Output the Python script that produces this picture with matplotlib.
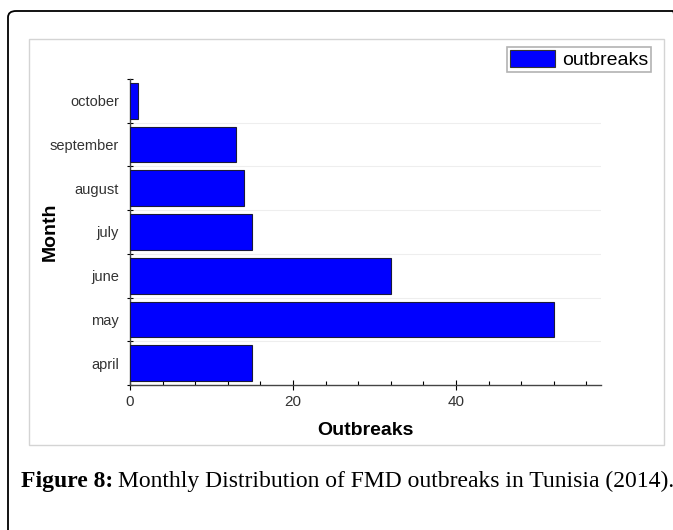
#!/usr/bin/env python3
import matplotlib
matplotlib.use('Agg')
import matplotlib.pyplot as plt
from matplotlib.patches import FancyBboxPatch, Rectangle
from matplotlib.ticker import MultipleLocator, FixedLocator
import numpy as np

months = ['april', 'may', 'june', 'july', 'august', 'september', 'october']
outbreaks = [15, 52, 32, 15, 14, 13, 1]

W, H = 673, 530
fig = plt.figure(figsize=(W / 100, H / 100), dpi=100)

# outer frame (rounded, runs off the right/bottom edge)
fig.patches.append(FancyBboxPatch((8 / W, -0.05), 1.0, 1.0 - 11 / H + 0.05,
                                  boxstyle='round,pad=0,rounding_size=0.012',
                                  transform=fig.transFigure, fill=False,
                                  edgecolor='black', linewidth=1.3))
# grey panel around the chart image
fig.patches.append(Rectangle((29 / W, 1 - 445 / H), (664 - 29) / W, (445 - 39) / H,
                             transform=fig.transFigure, fill=False,
                             edgecolor='#d4d4d4', linewidth=1.0))

ax = fig.add_axes([130 / W, 1 - 385 / H, (601 - 130) / W, (385 - 79) / H])
y = np.arange(len(months))
bars = ax.barh(y, outbreaks, height=0.82, color='#0000ff', edgecolor='#1a1a3a',
               linewidth=0.8, label='outbreaks', zorder=3)

ax.set_xlim(0, 57.8)
ax.set_ylim(-0.5, len(months) - 0.5)
ax.set_yticks(y)
ax.set_yticklabels(months, fontsize=10.5, family='Liberation Sans', color='#333333')
ax.yaxis.set_minor_locator(FixedLocator(np.arange(-0.5, len(months), 1.0)))
ax.tick_params(axis='y', which='major', length=0, pad=8)
ax.tick_params(axis='y', which='minor', length=5, direction='inout', width=0.8)

ax.xaxis.set_major_locator(MultipleLocator(20))
ax.xaxis.set_minor_locator(MultipleLocator(4))
ax.tick_params(axis='x', which='major', length=7, direction='inout', width=0.8,
               labelsize=11, pad=4)
ax.tick_params(axis='x', which='minor', length=3, direction='in', width=0.8)
for lab in ax.get_xticklabels():
    lab.set_family('Liberation Sans')
    lab.set_color('#333333')

for b in np.arange(0.5, len(months) - 0.5, 1.0):
    ax.axhline(b, color='#eeeeee', linewidth=0.8, zorder=1)

for s in ['top', 'right']:
    ax.spines[s].set_visible(False)
for s in ['left', 'bottom']:
    ax.spines[s].set_color('#444444')
    ax.spines[s].set_linewidth(1.0)

ax.set_xlabel('Outbreaks', fontsize=14, fontweight='bold', family='Liberation Sans')
ax.set_ylabel('Month', fontsize=14, fontweight='bold', family='Liberation Sans')
ax.xaxis.set_label_coords(0.5, -(422 - 385) / 306)
ax.yaxis.set_label_coords(-(130 - 42) / 471, 0.5)
ax.yaxis.label.set_va('top')

leg = fig.legend(handles=[bars], labels=['outbreaks'], loc='upper right',
                 bbox_to_anchor=(651 / W, 1 - 47 / H), fancybox=False,
                 prop={'family': 'Liberation Sans', 'size': 14},
                 handlelength=2.3, handleheight=0.95, borderpad=0.15,
                 handletextpad=0.35, borderaxespad=0, edgecolor='#a0a0a0')
leg.get_frame().set_linewidth(1.2)
leg.legend_handles[0].set_edgecolor('#333333')

t1 = fig.text(21 / W, 1 - 487 / H, 'Figure 8:', fontsize=17, fontweight='bold',
              family='Liberation Serif', va='baseline', ha='left')
fig.canvas.draw()
bb = t1.get_window_extent()
fig.text((bb.x1 + 5) / W, 1 - 487 / H,
         'Monthly Distribution of FMD outbreaks in Tunisia (2014).',
         fontsize=17, family='Liberation Serif', va='baseline', ha='left')

fig.savefig('out.png', dpi=100)
